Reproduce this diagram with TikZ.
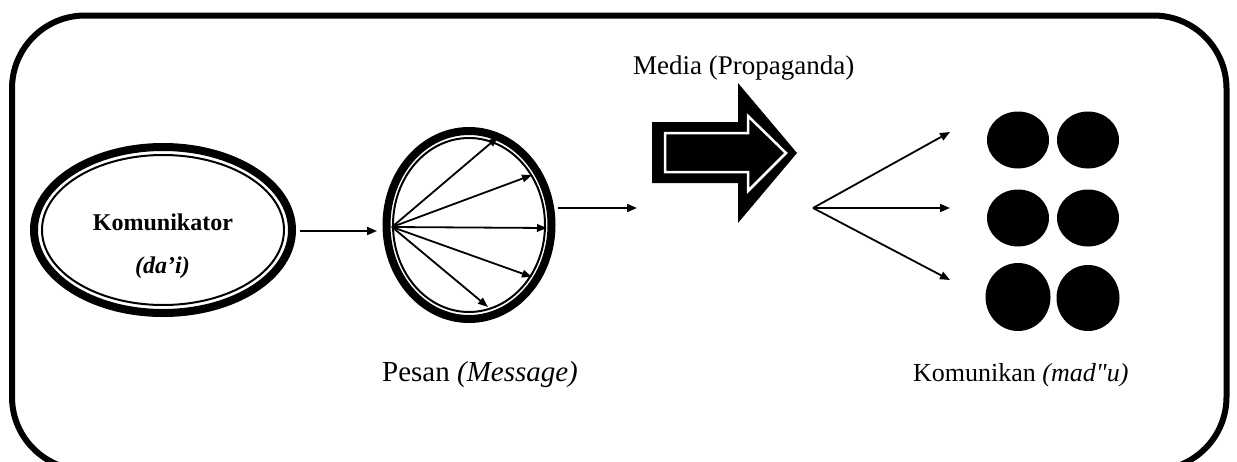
\documentclass[tikz,border=0pt]{standalone}
\usepackage{fontspec}
\setmainfont{Liberation Serif}
\newfontfamily\rawserif{Liberation Serif}[Ligatures=TeXOff]
\usetikzlibrary{shapes.geometric,arrows.meta}
\begin{document}
\begin{tikzpicture}[x=1pt,y=-1pt,
  arr/.style={line width=1.8pt,-{Triangle[length=10pt,width=8pt]}},
  sarr/.style={line width=1.8pt,-{Triangle[length=10pt,width=7.5pt]}},
  lbl/.style={font=\fontsize{27}{30}\selectfont, anchor=base west, inner sep=0pt},
  blbl/.style={font=\bfseries\fontsize{24}{28}\selectfont, anchor=base west, inner sep=0pt},
  dot/.style={ellipse, fill=black, inner sep=0pt, outer sep=0pt},
  oval/.style={ellipse, draw=black, inner sep=0pt}]
\useasboundingbox (0,0) rectangle (1237,461);
\begin{scope}
  \clip (0,0) rectangle (1237,461);
  \draw[line width=6pt, rounded corners=73pt] (12,15.5) rectangle (1226.5,470);
\end{scope}

% Komunikator
\node[oval, line width=8pt, minimum width=258pt, minimum height=166pt] (kom) at (163,230) {};
\draw[line width=2pt] (kom.center) ellipse [x radius=121pt, y radius=75pt];
\node[blbl] (komt) at (92.7,230) {Komunikator};
\node[blbl, font=\bfseries\itshape\fontsize{24}{28}\selectfont] (dai) at (135,273) {(da’i)};

% Pesan
\node[oval, line width=8pt, minimum width=165pt, minimum height=188pt] (pesan) at (469,225) {};
\draw[line width=2pt] (pesan.center) ellipse [x radius=76pt, y radius=87pt];
\coordinate (p0) at (392,227);
\coordinate (p1) at (498,137);
\coordinate (p2) at (532,175);
\coordinate (p3) at (547,228);
\coordinate (p4) at (532,277);
\coordinate (p5) at (488,307);
\foreach \i in {1,...,5} \draw[sarr] (p0) -- (p\i);
\node[lbl, font=\fontsize{29}{32}\selectfont] (pesant) at (382,381) {Pesan \textit{(Message)}};

\coordinate (k1) at (377,231);
\draw[arr] (300,231) -- (k1);

\coordinate (m1) at (637,208);
\draw[arr] (558,208) -- (m1);

% Media arrow
\node[lbl] (media) at (633,74) {Media (Propaganda)};
\fill (652,122) -- (738,122) -- (738,83) -- (797,153) -- (738,223) -- (738,183) -- (652,183) -- cycle;
\filldraw[fill=black, draw=white, line width=2.5pt]
  (665,133) -- (748,133) -- (748,116) -- (786,153) -- (748,191) -- (748,172) -- (665,172) -- cycle;

% Fan
\coordinate (f0) at (813,208);
\coordinate (f1) at (950,132);
\coordinate (f2) at (950,208);
\coordinate (f3) at (950,280);
\foreach \i in {1,2,3} \draw[arr] (f0) -- (f\i);

% Komunikan dots
\node[dot, minimum width=62pt, minimum height=57pt] (d11) at (1018,140) {};
\node[dot, minimum width=62pt, minimum height=57pt] (d12) at (1088,140) {};
\node[dot, minimum width=62pt, minimum height=57pt] (d21) at (1018,218) {};
\node[dot, minimum width=62pt, minimum height=57pt] (d22) at (1088,218) {};
\node[dot, minimum width=65pt, minimum height=68pt] (d31) at (1018,297) {};
\node[dot, minimum width=63pt, minimum height=66pt] (d32) at (1088,298) {};
\node[lbl, font=\fontsize{26}{30}\selectfont] (komn) at (913,381) {Komunikan \textit{(mad{\rawserif\itshape "}u)}};
\end{tikzpicture}
\end{document}
